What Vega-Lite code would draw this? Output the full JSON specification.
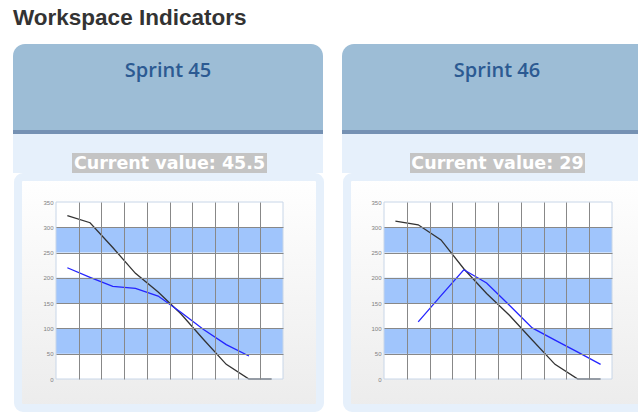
{
  "$schema": "https://vega.github.io/schema/vega-lite/v6.json",
  "padding": {"left": 13, "top": 6, "right": 0, "bottom": 0},
  "background": "#ffffff",
  "title": {"text": "Workspace Indicators", "anchor": "start", "font": "Liberation Sans", "fontSize": 22.5, "fontWeight": "bold", "color": "#333333", "offset": 15},
  "datasets": {
    "panels": [
      {"sprint": "Sprint 45", "label": "Current value: 45.5"},
      {"sprint": "Sprint 46", "label": "Current value: 29"}
    ],
    "bands": [
      {"lo": 50, "hi": 100},
      {"lo": 150, "hi": 200},
      {"lo": 250, "hi": 300}
    ],
    "burndown": [
      {"sprint": "Sprint 45", "series": "Ideal", "day": 1, "value": 323},
      {"sprint": "Sprint 45", "series": "Ideal", "day": 2, "value": 309},
      {"sprint": "Sprint 45", "series": "Ideal", "day": 3, "value": 260},
      {"sprint": "Sprint 45", "series": "Ideal", "day": 4, "value": 209},
      {"sprint": "Sprint 45", "series": "Ideal", "day": 5, "value": 172},
      {"sprint": "Sprint 45", "series": "Ideal", "day": 6, "value": 129},
      {"sprint": "Sprint 45", "series": "Ideal", "day": 7, "value": 78},
      {"sprint": "Sprint 45", "series": "Ideal", "day": 8, "value": 29},
      {"sprint": "Sprint 45", "series": "Ideal", "day": 9, "value": 0},
      {"sprint": "Sprint 45", "series": "Ideal", "day": 10, "value": 0},
      {"sprint": "Sprint 45", "series": "Remaining", "day": 1, "value": 220},
      {"sprint": "Sprint 45", "series": "Remaining", "day": 2, "value": 201},
      {"sprint": "Sprint 45", "series": "Remaining", "day": 3, "value": 183},
      {"sprint": "Sprint 45", "series": "Remaining", "day": 4, "value": 179},
      {"sprint": "Sprint 45", "series": "Remaining", "day": 5, "value": 164},
      {"sprint": "Sprint 45", "series": "Remaining", "day": 6, "value": 132},
      {"sprint": "Sprint 45", "series": "Remaining", "day": 7, "value": 98},
      {"sprint": "Sprint 45", "series": "Remaining", "day": 8, "value": 68},
      {"sprint": "Sprint 45", "series": "Remaining", "day": 9, "value": 45.5},
      {"sprint": "Sprint 46", "series": "Ideal", "day": 1, "value": 312},
      {"sprint": "Sprint 46", "series": "Ideal", "day": 2, "value": 305},
      {"sprint": "Sprint 46", "series": "Ideal", "day": 3, "value": 275},
      {"sprint": "Sprint 46", "series": "Ideal", "day": 4, "value": 218},
      {"sprint": "Sprint 46", "series": "Ideal", "day": 5, "value": 169},
      {"sprint": "Sprint 46", "series": "Ideal", "day": 6, "value": 126},
      {"sprint": "Sprint 46", "series": "Ideal", "day": 7, "value": 77},
      {"sprint": "Sprint 46", "series": "Ideal", "day": 8, "value": 29},
      {"sprint": "Sprint 46", "series": "Ideal", "day": 9, "value": 0},
      {"sprint": "Sprint 46", "series": "Ideal", "day": 10, "value": 0},
      {"sprint": "Sprint 46", "series": "Remaining", "day": 2, "value": 113},
      {"sprint": "Sprint 46", "series": "Remaining", "day": 3, "value": 165},
      {"sprint": "Sprint 46", "series": "Remaining", "day": 4, "value": 216},
      {"sprint": "Sprint 46", "series": "Remaining", "day": 5, "value": 190},
      {"sprint": "Sprint 46", "series": "Remaining", "day": 6, "value": 146},
      {"sprint": "Sprint 46", "series": "Remaining", "day": 7, "value": 101},
      {"sprint": "Sprint 46", "series": "Remaining", "day": 8, "value": 77},
      {"sprint": "Sprint 46", "series": "Remaining", "day": 9, "value": 53},
      {"sprint": "Sprint 46", "series": "Remaining", "day": 10, "value": 29}
    ]
  },
  "spacing": 18,
  "hconcat": [
    {
      "spacing": 0,
      "vconcat": [
        {
          "width": 310, "height": 86,
          "data": {"name": "panels"},
          "transform": [{"filter": "datum.sprint === 'Sprint 45'"}],
          "layer": [
            {"mark": {"type": "rect", "fill": "#9dbdd6", "cornerRadiusTopLeft": 12, "cornerRadiusTopRight": 12}, "encoding": {}},
            {"mark": {"type": "text", "font": "Open Sans", "fontWeight": 600, "fontSize": 20, "color": "#2c5a92", "baseline": "alphabetic", "dy": -10}, "encoding": {"text": {"field": "sprint"}}}
          ]
        },
        {
          "width": 310, "height": 4,
          "data": {"name": "panels"},
          "transform": [{"filter": "datum.sprint === 'Sprint 45'"}],
          "mark": {"type": "rect", "fill": "#7591b3"}, "encoding": {}
        },
        {
          "width": 310, "height": 19,
          "data": {"name": "panels"},
          "transform": [{"filter": "datum.sprint === 'Sprint 45'"}],
          "mark": {"type": "rect", "fill": "#e6f0fb"}, "encoding": {}
        },
        {
          "spacing": 0,
          "bounds": "flush",
          "hconcat": [
            {
              "width": 59, "height": 20,
              "data": {"name": "panels"},
              "transform": [{"filter": "datum.sprint === 'Sprint 45'"}],
              "mark": {"type": "rect", "fill": "#e6f0fb"}, "encoding": {}
            },
            {
              "width": 195, "height": 20,
              "data": {"name": "panels"},
              "transform": [{"filter": "datum.sprint === 'Sprint 45'"}],
              "layer": [
                {"mark": {"type": "rect", "fill": "#c4c4c4"}, "encoding": {}},
                {"mark": {"type": "text", "font": "DejaVu Sans", "fontWeight": "bold", "fontSize": 17.5, "color": "#ffffff", "baseline": "middle", "dy": 1}, "encoding": {"text": {"field": "label"}}}
              ]
            },
            {
              "width": 56, "height": 20,
              "data": {"name": "panels"},
              "transform": [{"filter": "datum.sprint === 'Sprint 45'"}],
              "mark": {"type": "rect", "fill": "#e6f0fb"}, "encoding": {}
            }
          ]
        },
        {
          "spacing": 0,
          "hconcat": [
            {
              "width": 0.01, "height": 231,
              "data": {"name": "panels"},
              "transform": [{"filter": "datum.sprint === 'Sprint 45'"}],
              "mark": {"type": "rect", "fill": "#e6f0fb"}, "encoding": {}
            },
            {
              "width": 302, "height": 231,
              "view": {"fill": {"gradient": "linear", "x1": 0, "y1": 0, "x2": 0, "y2": 1, "stops": [{"offset": 0, "color": "#ffffff"}, {"offset": 1, "color": "#ececec"}]}, "stroke": "#e6f0fb", "strokeWidth": 8, "cornerRadius": 5},
              "layer": [
                {
                  "data": {"name": "panels"},
                  "transform": [{"filter": "datum.sprint === 'Sprint 45'"}],
                  "mark": {"type": "rect", "fill": "#ffffff"},
                  "encoding": {
                    "x": {"datum": 0.5, "type": "quantitative", "scale": {"domain": [0.5, 10.5], "range": [38, 265], "nice": false, "zero": false},
                          "axis": {"orient": "top", "values": [1.5, 2.5, 3.5, 4.5, 5.5, 6.5, 7.5, 8.5, 9.5], "labels": false, "ticks": false, "domain": false, "grid": true, "gridColor": "#888888", "gridWidth": 1, "title": null, "zindex": 1}},
                    "x2": {"datum": 10.5},
                    "y": {"datum": 0, "type": "quantitative", "scale": {"domain": [0, 350], "range": [202, 25], "nice": false},
                          "axis": {"orient": "left", "offset": -38, "values": [0, 50, 100, 150, 200, 250, 300, 350], "labelFont": "Liberation Sans", "labelFontSize": 6, "labelColor": "#808080", "labelPadding": 3, "ticks": false, "tickSize": 0, "domain": false, "grid": true, "gridColor": "#888888", "gridOpacity": {"condition": {"test": "datum.value === 0 || datum.value === 350", "value": 0}, "value": 1}, "title": null, "zindex": 1}},
                    "y2": {"datum": 350}
                  }
                },
                {
                  "data": {"name": "bands"},
                  "mark": {"type": "rect", "fill": "#a0c5fc"},
                  "encoding": {
                    "x": {"datum": 0.5, "type": "quantitative",
                          "axis": {"orient": "top", "values": [1.5, 2.5, 3.5, 4.5, 5.5, 6.5, 7.5, 8.5, 9.5], "labels": false, "ticks": false, "domain": false, "grid": true, "gridColor": "#888888", "gridWidth": 1, "title": null, "zindex": 1}},
                    "x2": {"datum": 10.5},
                    "y": {"field": "lo", "type": "quantitative",
                          "axis": {"orient": "left", "offset": -38, "values": [0, 50, 100, 150, 200, 250, 300, 350], "labelFont": "Liberation Sans", "labelFontSize": 6, "labelColor": "#808080", "labelPadding": 3, "ticks": false, "tickSize": 0, "domain": false, "grid": true, "gridColor": "#888888", "gridOpacity": {"condition": {"test": "datum.value === 0 || datum.value === 350", "value": 0}, "value": 1}, "title": null, "zindex": 1}},
                    "y2": {"field": "hi"}
                  }
                },
                {
                  "data": {"name": "burndown"},
                  "transform": [{"filter": "datum.sprint === 'Sprint 45'"}],
                  "mark": {"type": "line", "strokeWidth": 1.3},
                  "encoding": {
                    "x": {"field": "day", "type": "quantitative",
                          "axis": {"orient": "top", "values": [1.5, 2.5, 3.5, 4.5, 5.5, 6.5, 7.5, 8.5, 9.5], "labels": false, "ticks": false, "domain": false, "grid": true, "gridColor": "#888888", "gridWidth": 1, "title": null, "zindex": 1}},
                    "y": {"field": "value", "type": "quantitative",
                          "axis": {"orient": "left", "offset": -38, "values": [0, 50, 100, 150, 200, 250, 300, 350], "labelFont": "Liberation Sans", "labelFontSize": 6, "labelColor": "#808080", "labelPadding": 3, "ticks": false, "tickSize": 0, "domain": false, "grid": true, "gridColor": "#888888", "gridOpacity": {"condition": {"test": "datum.value === 0 || datum.value === 350", "value": 0}, "value": 1}, "title": null, "zindex": 1}},
                    "color": {"field": "series", "type": "nominal", "scale": {"domain": ["Ideal", "Remaining"], "range": ["#333333", "#2424ff"]}, "legend": null}
                  }
                },
                {
                  "data": {"name": "panels"},
                  "transform": [{"filter": "datum.sprint === 'Sprint 45'"}],
                  "mark": {"type": "rect", "filled": false, "stroke": "#c8d6e8", "strokeWidth": 1},
                  "encoding": {
                    "x": {"datum": 0.5, "type": "quantitative",
                          "axis": {"orient": "top", "values": [1.5, 2.5, 3.5, 4.5, 5.5, 6.5, 7.5, 8.5, 9.5], "labels": false, "ticks": false, "domain": false, "grid": true, "gridColor": "#888888", "gridWidth": 1, "title": null, "zindex": 1}},
                    "x2": {"datum": 10.5},
                    "y": {"datum": 0, "type": "quantitative",
                          "axis": {"orient": "left", "offset": -38, "values": [0, 50, 100, 150, 200, 250, 300, 350], "labelFont": "Liberation Sans", "labelFontSize": 6, "labelColor": "#808080", "labelPadding": 3, "ticks": false, "tickSize": 0, "domain": false, "grid": true, "gridColor": "#888888", "gridOpacity": {"condition": {"test": "datum.value === 0 || datum.value === 350", "value": 0}, "value": 1}, "title": null, "zindex": 1}},
                    "y2": {"datum": 350}
                  }
                }
              ]
            }
          ]
        }
      ]
    },
    {
      "spacing": 0,
      "vconcat": [
        {
          "width": 310, "height": 86,
          "data": {"name": "panels"},
          "transform": [{"filter": "datum.sprint === 'Sprint 46'"}],
          "layer": [
            {"mark": {"type": "rect", "fill": "#9dbdd6", "cornerRadiusTopLeft": 12, "cornerRadiusTopRight": 12}, "encoding": {}},
            {"mark": {"type": "text", "font": "Open Sans", "fontWeight": 600, "fontSize": 20, "color": "#2c5a92", "baseline": "alphabetic", "dy": -10}, "encoding": {"text": {"field": "sprint"}}}
          ]
        },
        {
          "width": 310, "height": 4,
          "data": {"name": "panels"},
          "transform": [{"filter": "datum.sprint === 'Sprint 46'"}],
          "mark": {"type": "rect", "fill": "#7591b3"}, "encoding": {}
        },
        {
          "width": 310, "height": 19,
          "data": {"name": "panels"},
          "transform": [{"filter": "datum.sprint === 'Sprint 46'"}],
          "mark": {"type": "rect", "fill": "#e6f0fb"}, "encoding": {}
        },
        {
          "spacing": 0,
          "bounds": "flush",
          "hconcat": [
            {
              "width": 68, "height": 20,
              "data": {"name": "panels"},
              "transform": [{"filter": "datum.sprint === 'Sprint 46'"}],
              "mark": {"type": "rect", "fill": "#e6f0fb"}, "encoding": {}
            },
            {
              "width": 175, "height": 20,
              "data": {"name": "panels"},
              "transform": [{"filter": "datum.sprint === 'Sprint 46'"}],
              "layer": [
                {"mark": {"type": "rect", "fill": "#c4c4c4"}, "encoding": {}},
                {"mark": {"type": "text", "font": "DejaVu Sans", "fontWeight": "bold", "fontSize": 17.5, "color": "#ffffff", "baseline": "middle", "dy": 1}, "encoding": {"text": {"field": "label"}}}
              ]
            },
            {
              "width": 67, "height": 20,
              "data": {"name": "panels"},
              "transform": [{"filter": "datum.sprint === 'Sprint 46'"}],
              "mark": {"type": "rect", "fill": "#e6f0fb"}, "encoding": {}
            }
          ]
        },
        {
          "spacing": 0,
          "hconcat": [
            {
              "width": 0.01, "height": 231,
              "data": {"name": "panels"},
              "transform": [{"filter": "datum.sprint === 'Sprint 46'"}],
              "mark": {"type": "rect", "fill": "#e6f0fb"}, "encoding": {}
            },
            {
              "width": 302, "height": 231,
              "view": {"fill": {"gradient": "linear", "x1": 0, "y1": 0, "x2": 0, "y2": 1, "stops": [{"offset": 0, "color": "#ffffff"}, {"offset": 1, "color": "#ececec"}]}, "stroke": "#e6f0fb", "strokeWidth": 8, "cornerRadius": 5},
              "layer": [
                {
                  "data": {"name": "panels"},
                  "transform": [{"filter": "datum.sprint === 'Sprint 46'"}],
                  "mark": {"type": "rect", "fill": "#ffffff"},
                  "encoding": {
                    "x": {"datum": 0.5, "type": "quantitative", "scale": {"domain": [0.5, 10.5], "range": [37, 265], "nice": false, "zero": false},
                          "axis": {"orient": "top", "values": [1.5, 2.5, 3.5, 4.5, 5.5, 6.5, 7.5, 8.5, 9.5], "labels": false, "ticks": false, "domain": false, "grid": true, "gridColor": "#888888", "gridWidth": 1, "title": null, "zindex": 1}},
                    "x2": {"datum": 10.5},
                    "y": {"datum": 0, "type": "quantitative", "scale": {"domain": [0, 350], "range": [202, 25], "nice": false},
                          "axis": {"orient": "left", "offset": -37, "values": [0, 50, 100, 150, 200, 250, 300, 350], "labelFont": "Liberation Sans", "labelFontSize": 6, "labelColor": "#808080", "labelPadding": 3, "ticks": false, "tickSize": 0, "domain": false, "grid": true, "gridColor": "#888888", "gridOpacity": {"condition": {"test": "datum.value === 0 || datum.value === 350", "value": 0}, "value": 1}, "title": null, "zindex": 1}},
                    "y2": {"datum": 350}
                  }
                },
                {
                  "data": {"name": "bands"},
                  "mark": {"type": "rect", "fill": "#a0c5fc"},
                  "encoding": {
                    "x": {"datum": 0.5, "type": "quantitative",
                          "axis": {"orient": "top", "values": [1.5, 2.5, 3.5, 4.5, 5.5, 6.5, 7.5, 8.5, 9.5], "labels": false, "ticks": false, "domain": false, "grid": true, "gridColor": "#888888", "gridWidth": 1, "title": null, "zindex": 1}},
                    "x2": {"datum": 10.5},
                    "y": {"field": "lo", "type": "quantitative",
                          "axis": {"orient": "left", "offset": -37, "values": [0, 50, 100, 150, 200, 250, 300, 350], "labelFont": "Liberation Sans", "labelFontSize": 6, "labelColor": "#808080", "labelPadding": 3, "ticks": false, "tickSize": 0, "domain": false, "grid": true, "gridColor": "#888888", "gridOpacity": {"condition": {"test": "datum.value === 0 || datum.value === 350", "value": 0}, "value": 1}, "title": null, "zindex": 1}},
                    "y2": {"field": "hi"}
                  }
                },
                {
                  "data": {"name": "burndown"},
                  "transform": [{"filter": "datum.sprint === 'Sprint 46'"}],
                  "mark": {"type": "line", "strokeWidth": 1.3},
                  "encoding": {
                    "x": {"field": "day", "type": "quantitative",
                          "axis": {"orient": "top", "values": [1.5, 2.5, 3.5, 4.5, 5.5, 6.5, 7.5, 8.5, 9.5], "labels": false, "ticks": false, "domain": false, "grid": true, "gridColor": "#888888", "gridWidth": 1, "title": null, "zindex": 1}},
                    "y": {"field": "value", "type": "quantitative",
                          "axis": {"orient": "left", "offset": -37, "values": [0, 50, 100, 150, 200, 250, 300, 350], "labelFont": "Liberation Sans", "labelFontSize": 6, "labelColor": "#808080", "labelPadding": 3, "ticks": false, "tickSize": 0, "domain": false, "grid": true, "gridColor": "#888888", "gridOpacity": {"condition": {"test": "datum.value === 0 || datum.value === 350", "value": 0}, "value": 1}, "title": null, "zindex": 1}},
                    "color": {"field": "series", "type": "nominal", "scale": {"domain": ["Ideal", "Remaining"], "range": ["#333333", "#2424ff"]}, "legend": null}
                  }
                },
                {
                  "data": {"name": "panels"},
                  "transform": [{"filter": "datum.sprint === 'Sprint 46'"}],
                  "mark": {"type": "rect", "filled": false, "stroke": "#c8d6e8", "strokeWidth": 1},
                  "encoding": {
                    "x": {"datum": 0.5, "type": "quantitative",
                          "axis": {"orient": "top", "values": [1.5, 2.5, 3.5, 4.5, 5.5, 6.5, 7.5, 8.5, 9.5], "labels": false, "ticks": false, "domain": false, "grid": true, "gridColor": "#888888", "gridWidth": 1, "title": null, "zindex": 1}},
                    "x2": {"datum": 10.5},
                    "y": {"datum": 0, "type": "quantitative",
                          "axis": {"orient": "left", "offset": -37, "values": [0, 50, 100, 150, 200, 250, 300, 350], "labelFont": "Liberation Sans", "labelFontSize": 6, "labelColor": "#808080", "labelPadding": 3, "ticks": false, "tickSize": 0, "domain": false, "grid": true, "gridColor": "#888888", "gridOpacity": {"condition": {"test": "datum.value === 0 || datum.value === 350", "value": 0}, "value": 1}, "title": null, "zindex": 1}},
                    "y2": {"datum": 350}
                  }
                }
              ]
            }
          ]
        }
      ]
    }
  ],
  "config": {
    "view": {"stroke": null},
    "font": "Liberation Sans"
  }
}
